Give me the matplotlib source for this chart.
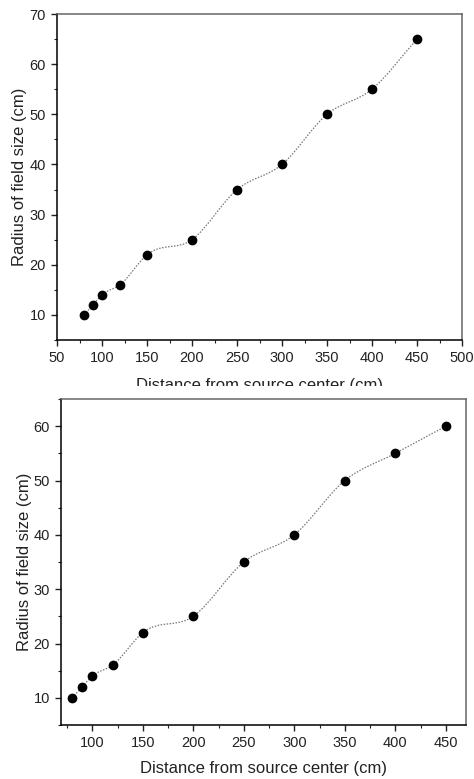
import matplotlib
matplotlib.use("Agg")
import matplotlib.pyplot as plt
import numpy as np
from matplotlib.path import Path
from matplotlib.patches import PathPatch, Rectangle
from matplotlib.ticker import MultipleLocator

plt.rcParams['font.family'] = ['Liberation Sans', 'DejaVu Sans']

distance = [80, 90, 100, 120, 150, 200, 250, 300, 350, 400, 450]
radiusTop = [10, 12, 14, 16, 22, 25, 35, 40, 50, 55, 65]
radiusBottom = [10, 12, 14, 16, 22, 25, 35, 40, 50, 55, 60]

xLabel = "Distance from source center (cm)"
yLabel = "Radius of field size (cm)"


def smoothPath(x, y):
    # cubic hermite through the points, turned into bezier segments
    x = np.asarray(x, float)
    y = np.asarray(y, float)
    m = np.gradient(y, x)
    verts = [(x[0], y[0])]
    codes = [Path.MOVETO]
    for i in range(len(x) - 1):
        h = x[i + 1] - x[i]
        verts += [(x[i] + h / 3, y[i] + m[i] * h / 3),
                  (x[i + 1] - h / 3, y[i + 1] - m[i + 1] * h / 3),
                  (x[i + 1], y[i + 1])]
        codes += [Path.CURVE4] * 3
    return Path(verts, codes)


def drawPanel(ax, x, y, xlim, ylim, yticks, xpad, ypad):
    ax.add_patch(PathPatch(smoothPath(x, y), fill=False, edgecolor="#777777",
                           lw=0.9, linestyle=(0, (1.2, 1.2)), zorder=2))
    ax.plot(x, y, "o", color="black", ms=6, zorder=3)
    ax.set_xlim(*xlim)
    ax.set_ylim(*ylim)
    ax.set_yticks(yticks)
    ax.xaxis.set_minor_locator(MultipleLocator(25))
    ax.yaxis.set_minor_locator(MultipleLocator(5))
    ax.tick_params(which="both", direction="out", labelsize=10.5, colors="#222222")
    ax.tick_params(which="major", length=4, width=1, pad=4)
    ax.tick_params(which="minor", length=2.5, width=0.8)
    ax.set_xlabel(xLabel, fontsize=12, color="#222222", labelpad=xpad)
    ax.set_ylabel(yLabel, fontsize=12, color="#222222", labelpad=ypad)
    for s in ["left", "bottom"]:
        ax.spines[s].set_color("black")
        ax.spines[s].set_linewidth(1.1)
    for s in ["top", "right"]:
        ax.spines[s].set_color("#666666")
        ax.spines[s].set_linewidth(1.1)


W, H = 474, 779
fig = plt.figure(figsize=(W / 100, H / 100), dpi=100)

ax1 = fig.add_axes([57 / W, 1 - 340 / H, 405 / W, 326 / H])
drawPanel(ax1, distance, radiusTop, (50, 500), (5, 70), range(10, 71, 10), 9, 2)
ax1.set_xticks(range(50, 501, 50))

ax2 = fig.add_axes([61 / W, 1 - 725 / H, 405 / W, 326 / H])
drawPanel(ax2, distance, radiusBottom, (69, 470), (5, 65), range(10, 61, 10), 8, 1)
ax2.set_xticks(range(100, 451, 50))

# the top panel was cropped through its x label
fig.patches.append(Rectangle((0, 1 - 396 / H), 1, 10 / H, transform=fig.transFigure,
                             facecolor="white", edgecolor="none", zorder=10))

fig.savefig("out.png", dpi=100)
